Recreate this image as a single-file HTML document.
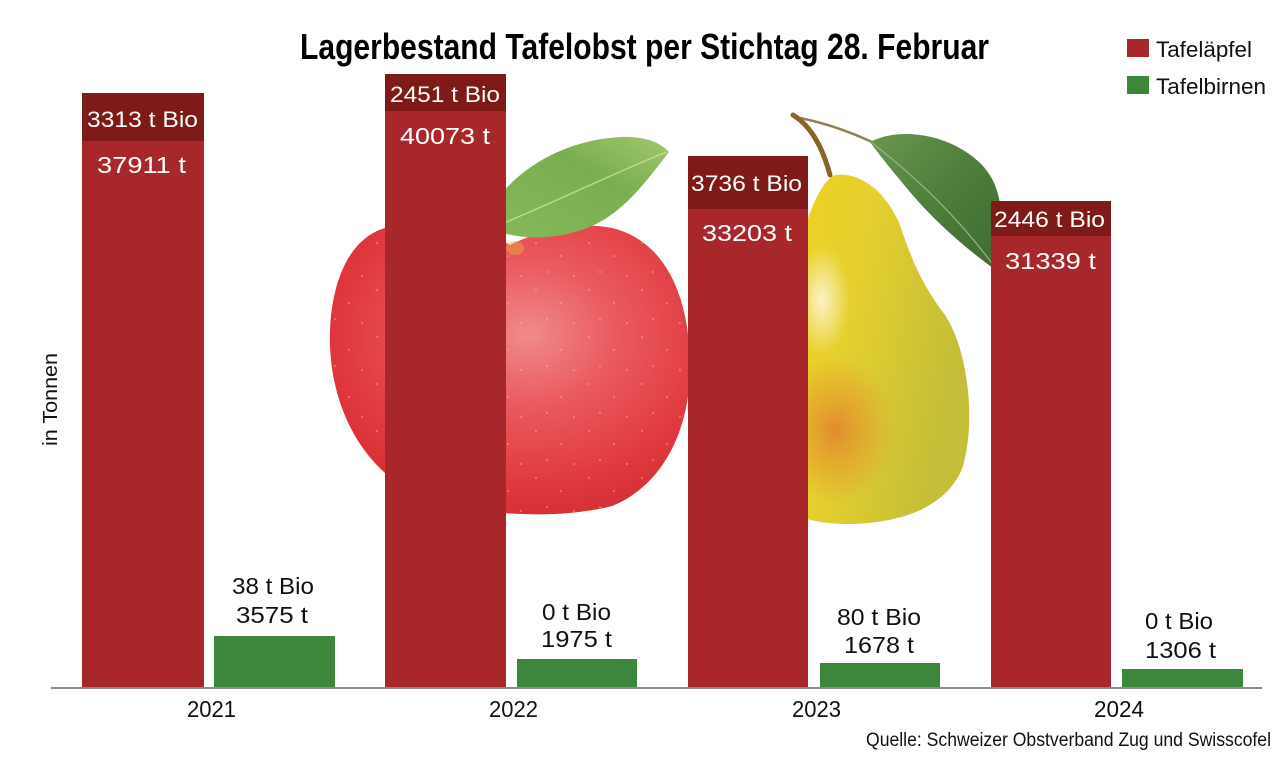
<!DOCTYPE html>
<html><head><meta charset="utf-8"><style>
html,body{margin:0;padding:0;background:#fff;}
svg{display:block;}
text{font-family:"Liberation Sans Narrow","Liberation Sans",sans-serif;}
</style></head><body>
<svg width="1280" height="759" viewBox="0 0 1280 759" xmlns="http://www.w3.org/2000/svg">
<defs>
<radialGradient id="apple" cx="0.55" cy="0.38" r="0.7">
<stop offset="0" stop-color="#F08A8C"/>
<stop offset="0.35" stop-color="#EA5A5E"/>
<stop offset="0.75" stop-color="#E0383E"/>
<stop offset="1" stop-color="#D02A30"/>
</radialGradient>
<linearGradient id="aleaf" x1="0" y1="1" x2="1" y2="0">
<stop offset="0" stop-color="#86B85A"/>
<stop offset="0.6" stop-color="#7AAE50"/>
<stop offset="1" stop-color="#A2C86E"/>
</linearGradient>
<linearGradient id="pear" x1="0" y1="0" x2="1" y2="0.3">
<stop offset="0" stop-color="#F2D21E"/>
<stop offset="0.5" stop-color="#E6D02E"/>
<stop offset="1" stop-color="#C4BE38"/>
</linearGradient>
<radialGradient id="blush" cx="0.5" cy="0.5" r="0.5">
<stop offset="0" stop-color="#E07A2E" stop-opacity="0.8"/>
<stop offset="0.6" stop-color="#E5952E" stop-opacity="0.45"/>
<stop offset="1" stop-color="#E5A02E" stop-opacity="0"/>
</radialGradient>
<radialGradient id="hl" cx="0.5" cy="0.5" r="0.5">
<stop offset="0" stop-color="#FFF6D8" stop-opacity="0.9"/>
<stop offset="1" stop-color="#FFF6D8" stop-opacity="0"/>
</radialGradient>
<linearGradient id="pleaf" x1="0" y1="0" x2="1" y2="1">
<stop offset="0" stop-color="#6A9650"/>
<stop offset="0.5" stop-color="#4E7E3C"/>
<stop offset="1" stop-color="#3E6A30"/>
</linearGradient>
<pattern id="dots" width="53" height="47" patternUnits="userSpaceOnUse">
<circle cx="6" cy="8" r="1.1" fill="#F2C08A" opacity="0.45"/>
<circle cx="31" cy="21" r="1.1" fill="#F2C08A" opacity="0.45"/>
<circle cx="17" cy="37" r="1.1" fill="#F2C08A" opacity="0.45"/>
<circle cx="44" cy="41" r="1.1" fill="#F2C08A" opacity="0.45"/>
</pattern>
</defs>

<!-- apple -->
<path d="M510 245 C475 224,420 220,385 228 C350 238,332 280,330 330 C328 390,350 450,400 485 C450 515,550 522,612 506 C662 486,692 430,690 360 C688 290,662 240,612 228 C572 220,532 234,510 245 Z" fill="url(#apple)"/>
<path d="M510 245 C475 224,420 220,385 228 C350 238,332 280,330 330 C328 390,350 450,400 485 C450 515,550 522,612 506 C662 486,692 430,690 360 C688 290,662 240,612 228 C572 220,532 234,510 245 Z" fill="url(#dots)"/>
<ellipse cx="515" cy="248" rx="9" ry="7" fill="#E8B040" opacity="0.45"/>
<!-- apple leaf -->
<path d="M500 195 C528 162,570 140,620 137 C645 136,660 142,669 152 C650 176,630 205,600 222 C570 238,530 242,500 232 Z" fill="url(#aleaf)"/>
<path d="M506 222 C560 200,620 170,667 152" stroke="#B8D890" stroke-width="1.5" fill="none"/>

<!-- pear leaf and stem -->
<path d="M800 118 Q835 125,872 142" stroke="#8E8450" stroke-width="2.5" fill="none"/>
<path d="M870 142 C900 126,952 134,982 165 C1002 186,1006 218,996 270 C970 252,935 222,910 192 C895 174,880 156,870 142 Z" fill="url(#pleaf)"/>
<path d="M872 143 C920 180,960 220,994 266" stroke="#9AB880" stroke-width="1.2" fill="none"/>
<!-- pear body -->
<path d="M835 175 C860 172,885 190,900 225 C910 255,920 282,945 315 C968 350,976 420,963 466 C949 505,905 523,850 524 C800 524,770 510,760 470 C750 420,760 330,790 270 C805 230,815 185,835 175 Z" fill="url(#pear)"/>
<ellipse cx="835" cy="430" rx="60" ry="75" fill="url(#blush)"/>
<ellipse cx="822" cy="300" rx="28" ry="55" fill="url(#hl)"/>
<path d="M793 115 Q818 130,830 175" stroke="#8A6428" stroke-width="5" fill="none" stroke-linecap="round"/>

<!-- bars -->
<g>
<rect x="82" y="93" width="122" height="595" fill="#A8272A"/>
<rect x="82" y="93" width="122" height="48" fill="#7E1B19"/>
<rect x="214" y="636" width="121" height="52" fill="#3D873D"/>

<rect x="385" y="74" width="121" height="614" fill="#A8272A"/>
<rect x="385" y="74" width="121" height="37" fill="#7E1B19"/>
<rect x="517" y="659" width="120" height="29" fill="#3D873D"/>

<rect x="688" y="156" width="120" height="532" fill="#A8272A"/>
<rect x="688" y="156" width="120" height="53" fill="#7E1B19"/>
<rect x="820" y="663" width="120" height="25" fill="#3D873D"/>

<rect x="991" y="201" width="120" height="487" fill="#A8272A"/>
<rect x="991" y="201" width="120" height="35" fill="#7E1B19"/>
<rect x="1122" y="669" width="121" height="19" fill="#3D873D"/>
</g>

<line x1="51" y1="688" x2="1262" y2="688" stroke="#8A8A8A" stroke-width="2"/>

<!-- title -->
<text x="300" y="59" font-size="36" font-weight="bold" fill="#000" textLength="689" lengthAdjust="spacingAndGlyphs">Lagerbestand Tafelobst per Stichtag 28. Februar</text>

<!-- legend -->
<rect x="1127" y="39" width="22" height="18" fill="#A8272A"/>
<rect x="1127" y="76" width="22" height="18" fill="#3D873D"/>
<text x="1156" y="57" font-size="22" fill="#111" textLength="96" lengthAdjust="spacingAndGlyphs">Tafeläpfel</text>
<text x="1156" y="94" font-size="22" fill="#111" textLength="110" lengthAdjust="spacingAndGlyphs">Tafelbirnen</text>

<!-- bar labels (white) -->
<g fill="#fff" font-size="22">
<text x="87" y="127" textLength="111" lengthAdjust="spacingAndGlyphs">3313 t Bio</text>
<text x="97" y="173" font-size="23" textLength="89" lengthAdjust="spacingAndGlyphs">37911 t</text>
<text x="390" y="102" textLength="110" lengthAdjust="spacingAndGlyphs">2451 t Bio</text>
<text x="400" y="144" font-size="23" textLength="90" lengthAdjust="spacingAndGlyphs">40073 t</text>
<text x="691" y="191" textLength="111" lengthAdjust="spacingAndGlyphs">3736 t Bio</text>
<text x="702" y="241" font-size="23" textLength="90" lengthAdjust="spacingAndGlyphs">33203 t</text>
<text x="994" y="227" textLength="111" lengthAdjust="spacingAndGlyphs">2446 t Bio</text>
<text x="1005" y="269" font-size="23" textLength="91" lengthAdjust="spacingAndGlyphs">31339 t</text>
</g>

<!-- green labels -->
<g fill="#111" font-size="23">
<text x="232" y="594" textLength="82" lengthAdjust="spacingAndGlyphs">38 t Bio</text>
<text x="236" y="623" textLength="72" lengthAdjust="spacingAndGlyphs">3575 t</text>
<text x="542" y="620" textLength="69" lengthAdjust="spacingAndGlyphs">0 t Bio</text>
<text x="541" y="647" textLength="71" lengthAdjust="spacingAndGlyphs">1975 t</text>
<text x="837" y="625" textLength="84" lengthAdjust="spacingAndGlyphs">80 t Bio</text>
<text x="844" y="653" textLength="70" lengthAdjust="spacingAndGlyphs">1678 t</text>
<text x="1145" y="629" textLength="68" lengthAdjust="spacingAndGlyphs">0 t Bio</text>
<text x="1145" y="658" textLength="71" lengthAdjust="spacingAndGlyphs">1306 t</text>
</g>

<!-- years -->
<g fill="#111" font-size="23">
<text x="187" y="717" textLength="49" lengthAdjust="spacingAndGlyphs">2021</text>
<text x="489" y="717" textLength="49" lengthAdjust="spacingAndGlyphs">2022</text>
<text x="792" y="717" textLength="49" lengthAdjust="spacingAndGlyphs">2023</text>
<text x="1094" y="717" textLength="50" lengthAdjust="spacingAndGlyphs">2024</text>
</g>

<!-- y axis label -->
<text transform="translate(57,446) rotate(-90)" font-size="20" fill="#111" textLength="93" lengthAdjust="spacingAndGlyphs">in Tonnen</text>

<!-- source -->
<text x="866" y="746" font-size="19" fill="#111" textLength="405" lengthAdjust="spacingAndGlyphs">Quelle: Schweizer Obstverband Zug und Swisscofel</text>
</svg>
</body></html>
